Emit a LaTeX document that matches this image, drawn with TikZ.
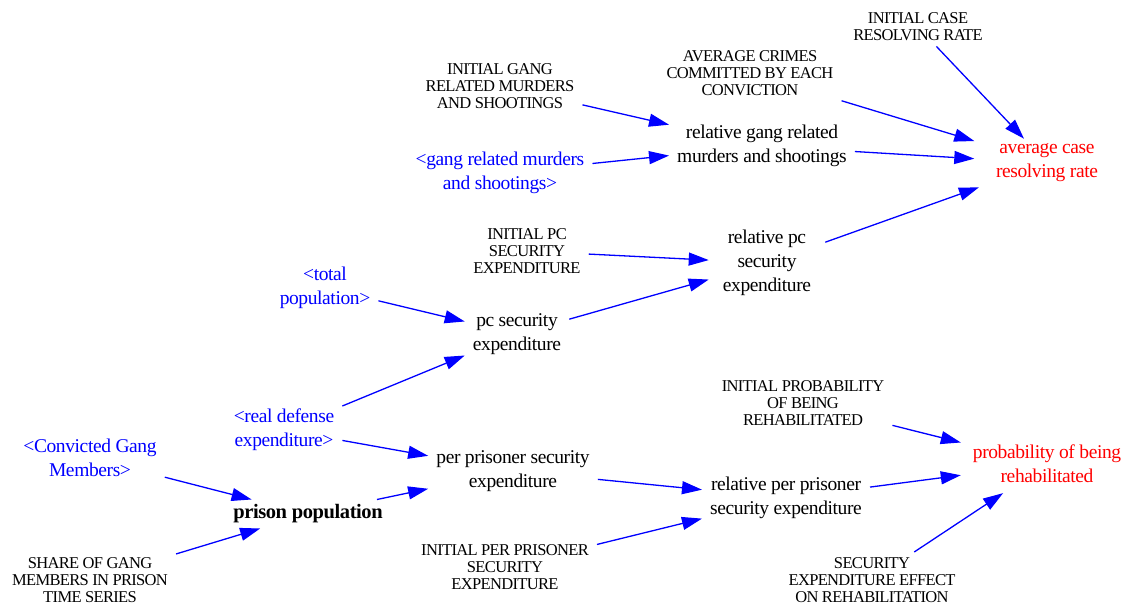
\documentclass[tikz,border=0pt]{standalone}
\usepackage{fontspec}
\setmainfont{Liberation Serif}
\newfontfamily\capsfont[LetterSpace=-4]{Liberation Serif}
\newfontfamily\lowfont[LetterSpace=-2]{Liberation Serif}
\usetikzlibrary{arrows.meta,positioning}
\definecolor{vblue}{RGB}{0,0,255}
\definecolor{vred}{RGB}{255,0,0}
\tikzset{
  var/.style={align=center,inner xsep=8pt,inner ysep=5pt,font=\lowfont\fontsize{19.5}{24}\selectfont},
  const/.style={var,font=\capsfont\fontsize{16.5}{17.3}\selectfont},
  shadow/.style={var,text=vblue},
  outvar/.style={var,text=vred},
  keyvar/.style={var,font=\lowfont\fontsize{20.5}{24}\selectfont\bfseries},
  ar/.style={-{Triangle[length=20pt,width=13pt]},draw=vblue,line width=1.3pt},
}

\begin{document}
\begin{tikzpicture}[x=1pt,y=1pt,on grid]
    \useasboundingbox (0,0) rectangle (1125,-607);
    % prison side
    \node[keyvar] (prison) at (308,-514) {prison population};
    \node[shadow,above left=56pt and 218pt of prison] (convicted) {<Convicted Gang\\Members>};
    \node[const,below left=66pt and 218pt of prison] (share) {SHARE OF GANG\\MEMBERS IN PRISON\\TIME SERIES};
    \node[shadow,above left=84pt and 24pt of prison] (realdef) {<real defense\\expenditure>};
    \node[var,above right=43pt and 205pt of prison] (perpris) {per prisoner security\\expenditure};
    \node[const,below left=96pt and 8pt of perpris] (initpp) {INITIAL PER PRISONER\\SECURITY\\EXPENDITURE};
    \node[var,below right=27pt and 273pt of perpris] (relpp) {relative per prisoner\\security expenditure};
    % pc security
    \node[var,above right=137pt and 4pt of perpris] (pcsec) {pc security\\expenditure};
    \node[shadow,above left=46pt and 192pt of pcsec] (totpop) {<total\\population>};
    \node[var,above right=71pt and 250pt of pcsec,inner xsep=14pt] (relpc) {relative pc\\security\\expenditure};
    \node[const,above left=12pt and 240pt of relpc] (initpc) {INITIAL PC\\SECURITY\\EXPENDITURE};
    % gang murders
    \node[var,above left=117pt and 5pt of relpc] (relgang) {relative gang related\\murders and shootings};
    \node[shadow,below left=27pt and 262pt of relgang] (gangmur) {<gang related murders\\and shootings>};
    \node[const,above left=60pt and 262pt of relgang] (initgang) {INITIAL GANG\\RELATED MURDERS\\AND SHOOTINGS};
    \node[const,above left=73pt and 12pt of relgang] (avgcrimes) {AVERAGE CRIMES\\COMMITTED BY EACH\\CONVICTION};
    % outputs
    \node[outvar,below right=17pt and 285pt of relgang,minimum width=145pt] (avgcase) {average case\\resolving rate};
    \node[const,above left=136pt and 129pt of avgcase] (initcase) {INITIAL CASE\\RESOLVING RATE};
    \node[outvar,above right=34pt and 261pt of relpp,minimum width=172pt,inner ysep=10pt] (prob) {probability of being\\rehabilitated};
    \node[const,above right=95pt and 17pt of relpp] (initprob) {INITIAL PROBABILITY\\OF BEING\\REHABILITATED};
    \node[const,below right=82pt and 86pt of relpp] (seceff) {SECURITY\\EXPENDITURE EFFECT\\ON REHABILITATION};
    \draw[ar] (initcase) -- (avgcase);
    \draw[ar] (avgcrimes) -- (avgcase);
    \draw[ar] (relgang) -- (avgcase);
    \draw[ar] (relpc) -- (avgcase);
    \draw[ar] (initgang) -- (relgang);
    \draw[ar] (gangmur) -- (relgang);
    \draw[ar] (initpc) -- (relpc);
    \draw[ar] (pcsec) -- (relpc);
    \draw[ar] (totpop) -- (pcsec);
    \draw[ar] (realdef) -- (pcsec);
    \draw[ar] (realdef) -- (perpris);
    \draw[ar] (prison) -- (perpris);
    \draw[ar] (convicted) -- (prison);
    \draw[ar] (share) -- (prison);
    \draw[ar] (perpris) -- (relpp);
    \draw[ar] (initpp) -- (relpp);
    \draw[ar] (initprob) -- (prob);
    \draw[ar] (relpp) -- (prob);
    \draw[ar] (seceff) -- (prob);
  \end{tikzpicture}
\end{document}
